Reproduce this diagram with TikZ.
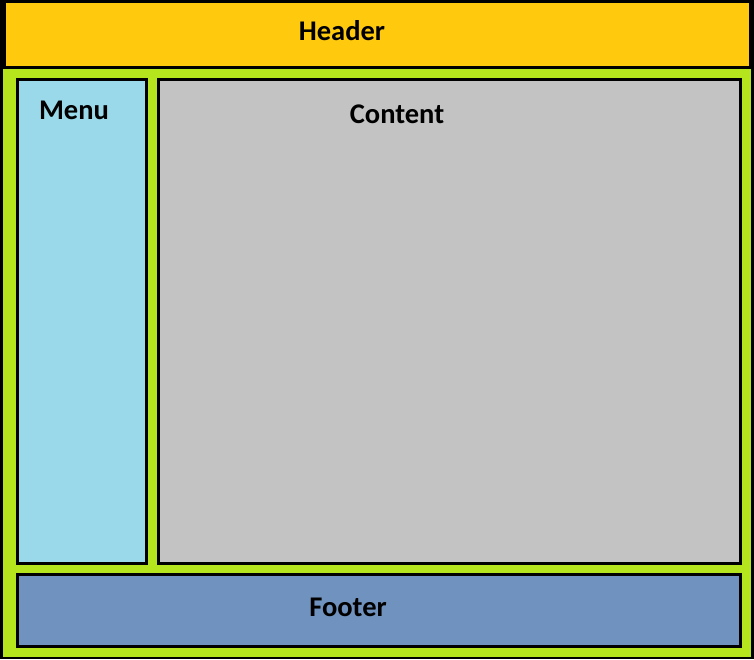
\documentclass[tikz,border=0pt]{standalone}
\usepackage{fontspec}
\setmainfont{Carlito}
\definecolor{hdryellow}{HTML}{FFC90E}
\definecolor{bodygreen}{HTML}{B5E61D}
\definecolor{menublue}{HTML}{99D9EA}
\definecolor{contgray}{HTML}{C3C3C3}
\definecolor{footblue}{HTML}{7092BE}
\tikzset{
 box/.style={draw=black,line width=3pt},
 lbl/.style={font=\bfseries\fontsize{28.5}{32}\selectfont,inner sep=0pt}
}
\begin{document}
\begin{tikzpicture}[x=1pt,y=-1pt]
 \def\w{754}%width
 \def\h{659}%height
 \fill[black] (0,0) rectangle (\w,\h);
 \fill[hdryellow] (6,3) rectangle (749,66);
 \fill[bodygreen] (3,69) rectangle (751,657);
 \path[box,fill=menublue] (17.5,79.5) rectangle (146.5,563.5);
 \path[box,fill=contgray] (158.5,79.5) rectangle (740.5,563.5);
 \path[box,fill=footblue] (17.5,574.5) rectangle (740.5,646.5);
 \path
 (342,31) node[lbl] (header) {Header}
 (74,110.5) node[lbl] (menu) {Menu}
 (397,114.5) node[lbl] (content) {Content}
 (348,607) node[lbl] (footer) {Footer}
 ;
\end{tikzpicture}
\end{document}
